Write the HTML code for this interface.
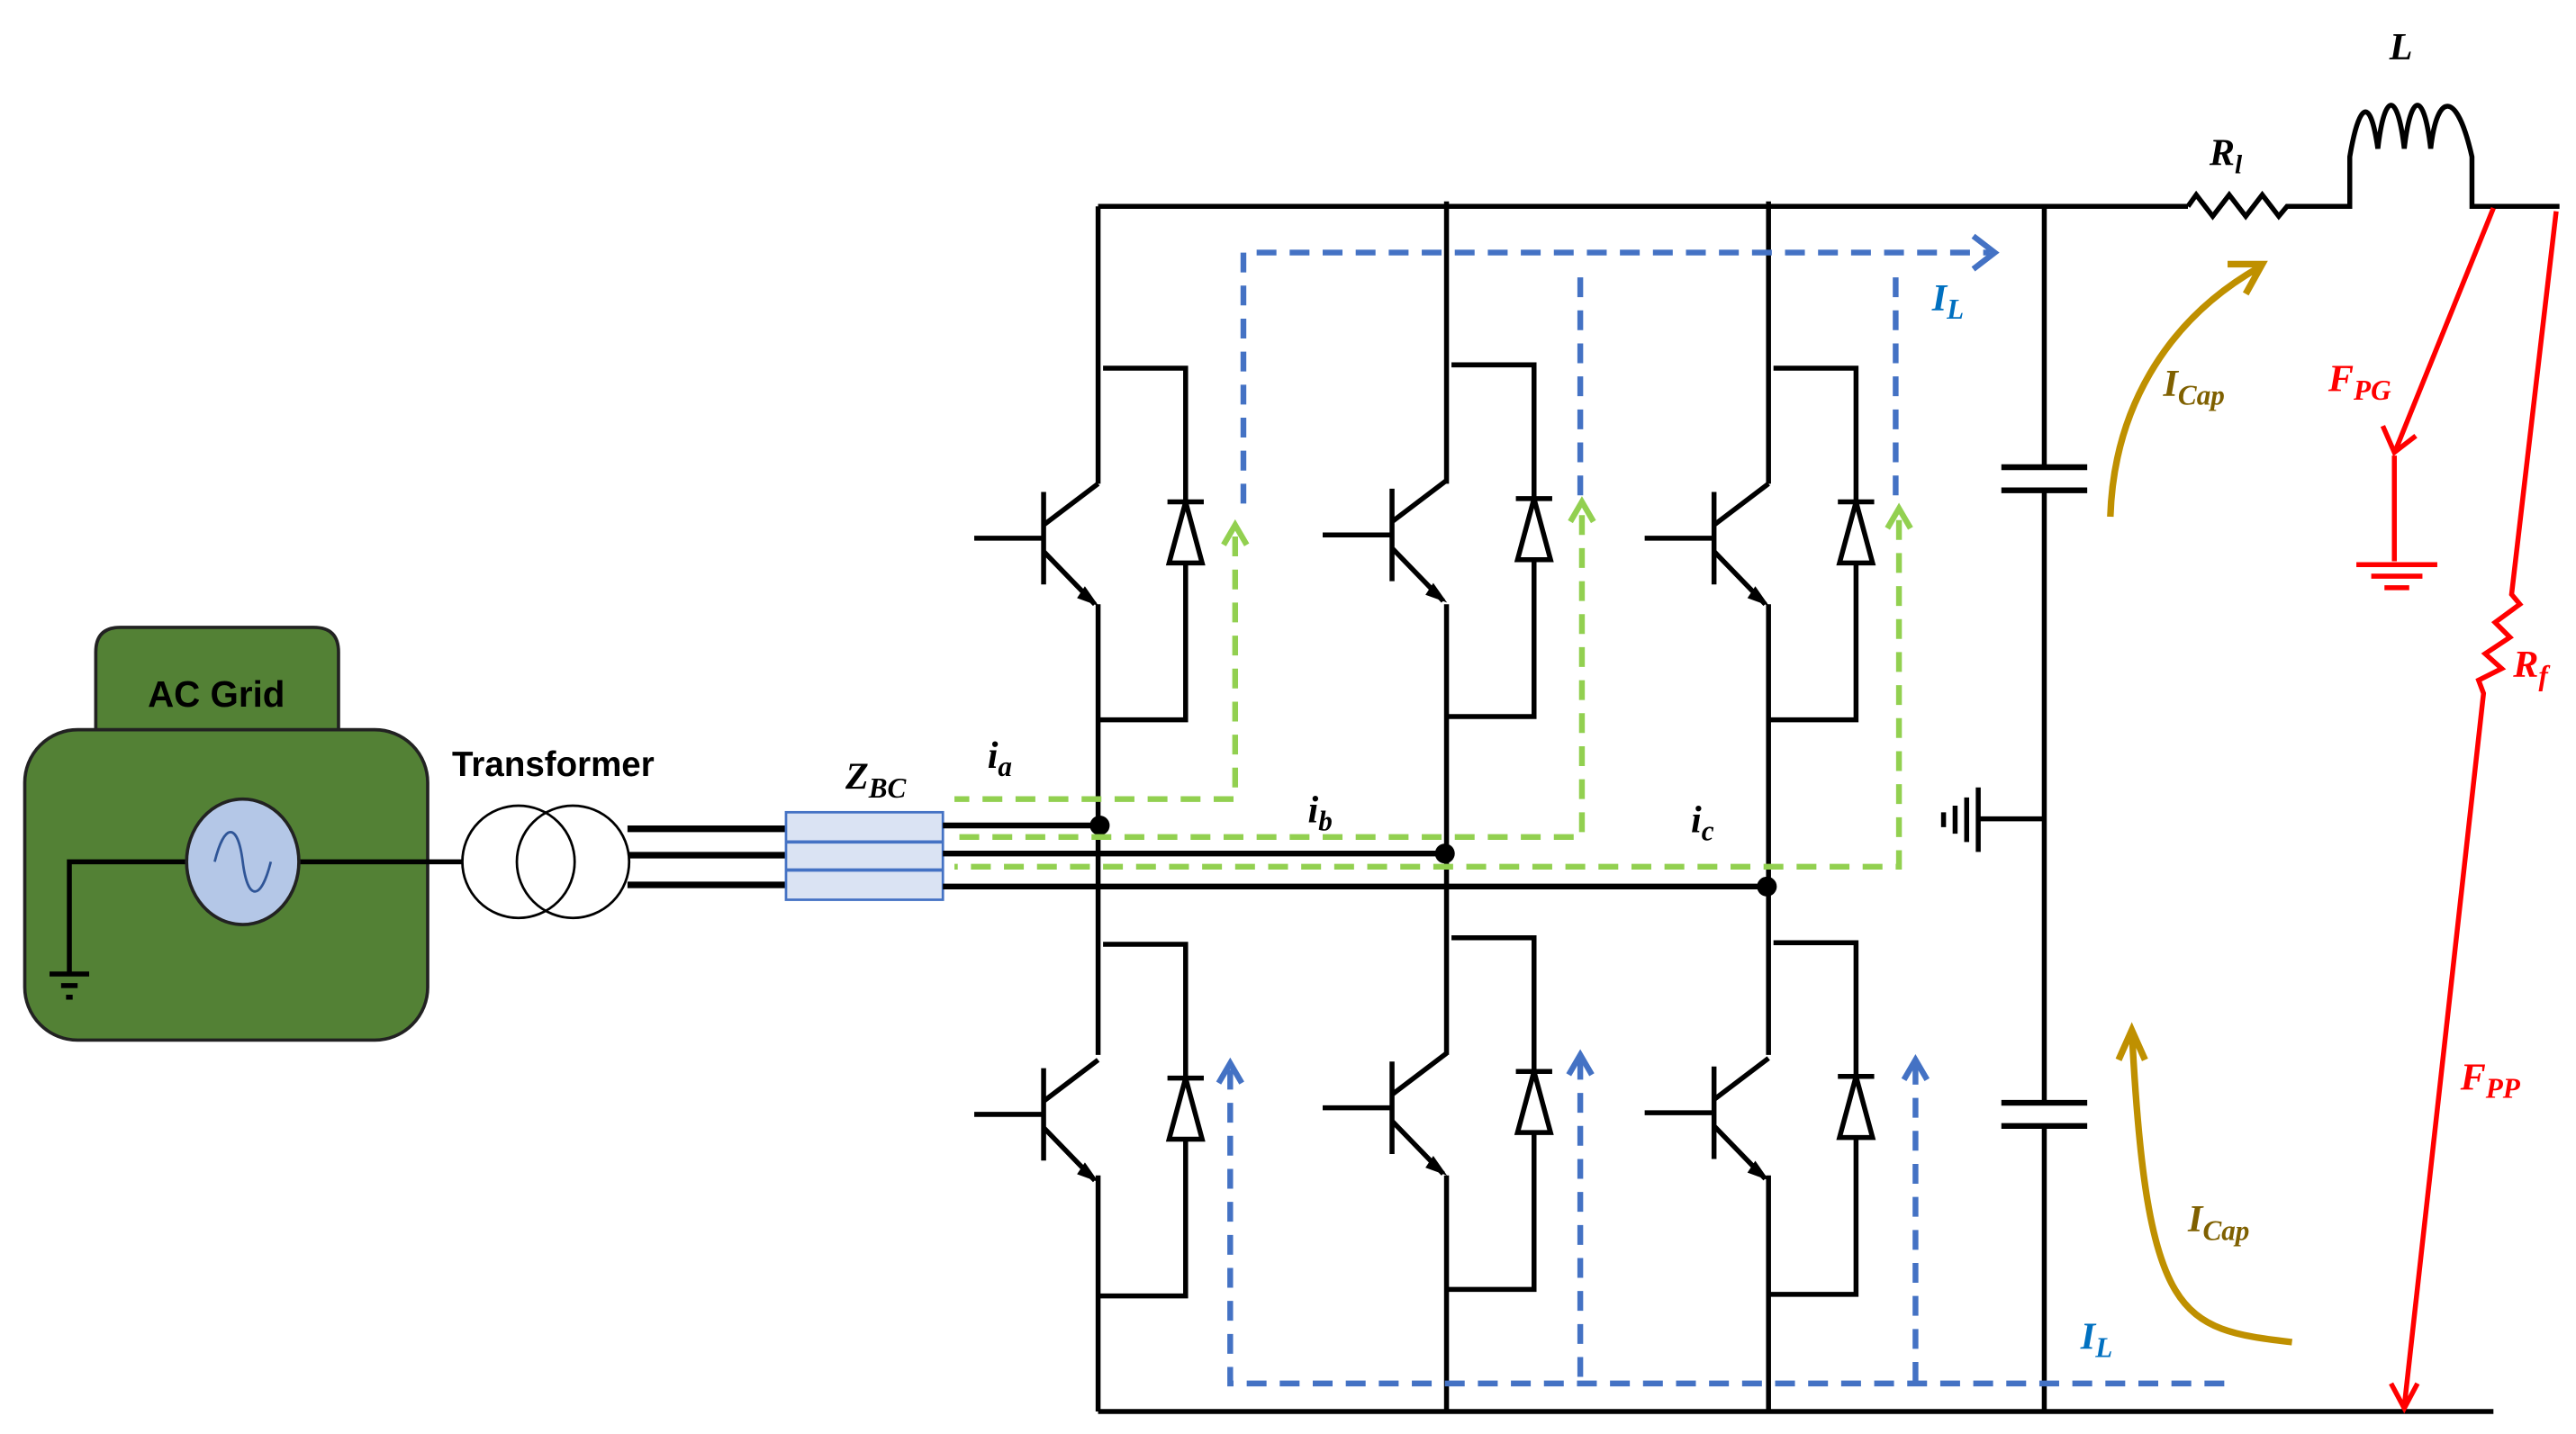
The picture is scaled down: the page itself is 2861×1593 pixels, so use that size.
<!DOCTYPE html>
<html><head><meta charset="utf-8"><style>
html,body{margin:0;padding:0;background:#fff;}
svg{display:block;}
text{font-family:"Liberation Serif",serif;font-style:italic;font-weight:bold;}
.s{font-family:"Liberation Sans",sans-serif;font-style:normal;font-weight:bold;}
</style></head><body>
<svg width="2861" height="1593" viewBox="0 0 1560 868.6" xmlns="http://www.w3.org/2000/svg">
<defs>
<marker id="ab" markerWidth="10" markerHeight="10" refX="7" refY="5" orient="auto" markerUnits="userSpaceOnUse"><path d="M1,1 L7,5 L1,9" fill="none" stroke="#000" stroke-width="2"/></marker>
<g id="igbt" fill="none" stroke="#000" stroke-width="3">
<path d="M-75,0 H-33 M-33,-28 V28 M-33,-8 L0,-33 M-33,8 L-2,40"/>
<path d="M-8,30 L-1,40 L-12,36 Z" fill="#000" stroke-width="1"/>
<path d="M3,-103 H53 V110 H0"/>
<path d="M53,-22 L43,15 H63 Z M42,-22 H64" fill="#fff"/>
</g>
</defs>
<!-- AC grid -->
<path d="M58,445 V395 Q58,380 73,380 H190 Q205,380 205,395 V445 Z" fill="#538135" stroke="#222" stroke-width="2"/>
<rect x="15" y="442" width="244" height="188" rx="32" fill="#538135" stroke="#222" stroke-width="2"/>
<text x="131" y="428" class="s" font-size="22" text-anchor="middle">AC Grid</text>
<path d="M42,590 V522 H280" fill="none" stroke="#000" stroke-width="3"/>
<path d="M30,590 H54 M37,597 H47 M40,604 H44" stroke="#000" stroke-width="3"/>
<ellipse cx="147" cy="522" rx="34" ry="38" fill="#b4c7e7" stroke="#222" stroke-width="2"/>
<path d="M130,522 C136,498 144,498 147,522 C150,546 158,546 164,522" fill="none" stroke="#2f5597" stroke-width="1.5"/>
<text x="335" y="470" class="s" font-size="21" text-anchor="middle">Transformer</text>
<circle cx="314" cy="522" r="34" fill="none" stroke="#000" stroke-width="1.5"/>
<circle cx="347" cy="522" r="34" fill="none" stroke="#000" stroke-width="1.5"/>
<path d="M380,502 H476 M381,518 H476 M380,536 H476" stroke="#000" stroke-width="4"/>
<rect x="476" y="492" width="95" height="53" fill="#dae3f3" stroke="#4472c4" stroke-width="1.5"/>
<path d="M476,510 H571 M476,527 H571" stroke="#4472c4" stroke-width="2"/>
<text x="512" y="478" font-size="23">Z<tspan font-size="17" dy="5">BC</tspan></text>
<!-- phase lines -->
<path d="M571,500 H665 M571,517 H875 M571,537 H1070" stroke="#000" stroke-width="3.5"/>
<circle cx="666" cy="500" r="6"/><circle cx="875" cy="517" r="6"/><circle cx="1070" cy="537" r="6"/>
<text x="598" y="465" font-size="23">i<tspan font-size="17" dy="5">a</tspan></text>
<text x="792" y="498" font-size="23">i<tspan font-size="17" dy="5">b</tspan></text>
<text x="1024" y="504" font-size="23">i<tspan font-size="17" dy="5">c</tspan></text>
<!-- buses -->
<path d="M665,125 H1325 M665,855 H1510" stroke="#000" stroke-width="3"/>
<path d="M665,125 V293 M665,366 V639 M665,712 V855 M876,122 V293 M876,366 V639 M876,712 V855 M1071,122 V293 M1071,366 V639 M1071,712 V855" stroke="#000" stroke-width="3"/>
<use href="#igbt" x="665" y="326"/><use href="#igbt" x="876" y="324"/><use href="#igbt" x="1071" y="326"/>
<use href="#igbt" x="665" y="675"/><use href="#igbt" x="876" y="671"/><use href="#igbt" x="1071" y="674"/>
<!-- capacitor column -->
<path d="M1238,125 V283 M1238,297 V668 M1238,682 V855" stroke="#000" stroke-width="3"/>
<path d="M1212,283 H1264 M1212,297 H1264 M1212,668 H1264 M1212,682 H1264" stroke="#000" stroke-width="3.5"/>
<path d="M1238,496 H1198 M1198,477 V516 M1191,483 V510 M1184,488 V505 M1177,492 V501" stroke="#000" stroke-width="3"/>
<!-- Rl and L -->
<path d="M1325,125 L1330,118 L1340,131 L1350,118 L1360,131 L1370,118 L1380,131 L1385,125 H1423 V95 C1428,65 1435,55 1440,90 C1444,55 1452,55 1456,90 C1460,55 1468,55 1472,90 C1476,55 1488,55 1497,95 V125 H1550" fill="none" stroke="#000" stroke-width="3"/>
<text x="1447" y="36" font-size="23">L</text>
<text x="1338" y="100" font-size="23">R<tspan font-size="16" dy="5">l</tspan></text>
<!-- red faults -->
<g stroke="#f00" stroke-width="3" fill="none">
<path d="M1510,126 L1451,272 M1443,258 L1450,274 L1463,264"/>
<path d="M1450,276 V340 M1427,342 H1476 M1436,349 H1467 M1444,356 H1459"/>
<path d="M1548,128 L1521,360 L1526,366 L1511,377 L1520,386 L1505,396 L1515,405 L1501,412 L1504,420 L1456,852 M1448,838 L1456,853 L1464,838"/>
</g>
<text x="1410" y="237" font-size="23" fill="#f00">F<tspan font-size="17" dy="5">PG</tspan></text>
<text x="1522" y="410" font-size="23" fill="#f00">R<tspan font-size="17" dy="5">f</tspan></text>
<text x="1490" y="660" font-size="23" fill="#f00">F<tspan font-size="17" dy="5">PP</tspan></text>
<!-- gold -->
<g stroke="#bf9000" stroke-width="4" fill="none">
<path d="M1278,313 C1280,250 1310,195 1368,162 M1349,160 L1370,160 L1360,178"/>
<path d="M1388,813 C1320,805 1300,800 1291,624 M1283,642 L1291,624 L1299,642"/>
</g>
<text x="1310" y="240" font-size="23" fill="#7f6000">I<tspan font-size="17" dy="5">Cap</tspan></text>
<text x="1325" y="746" font-size="23" fill="#7f6000">I<tspan font-size="17" dy="5">Cap</tspan></text>
<!-- blue dashed -->
<g stroke="#4472c4" stroke-width="3.5" fill="none" stroke-dasharray="12,8">
<path d="M753,305 V153 H1205"/>
<path d="M957,300 V160 M1148,300 V160"/>
<path d="M745,648 V838 H1355"/>
<path d="M957,642 V838 M1160,645 V838"/>
</g>
<g stroke="#4472c4" stroke-width="3.5" fill="none">
<path d="M1195,143 L1208,153 L1195,163"/>
<path d="M738,656 L745,644 L752,656 M950,651 L957,639 L964,651 M1153,654 L1160,642 L1167,654"/>
</g>
<text x="1170" y="188" font-size="23" fill="#0070c0">I<tspan font-size="17" dy="5">L</tspan></text>
<text x="1260" y="817" font-size="23" fill="#0070c0">I<tspan font-size="17" dy="5">L</tspan></text>
<!-- green dashed -->
<g stroke="#92d050" stroke-width="3.5" fill="none" stroke-dasharray="12,8">
<path d="M748,325 V484 H578"/>
<path d="M958,312 V507 H578"/>
<path d="M1150,315 V525 H578"/>
</g>
<g stroke="#92d050" stroke-width="3.5" fill="none">
<path d="M741,330 L748,318 L755,330 M951,316 L958,304 L965,316 M1143,320 L1150,308 L1157,320"/>
</g>
</svg>
</body></html>
